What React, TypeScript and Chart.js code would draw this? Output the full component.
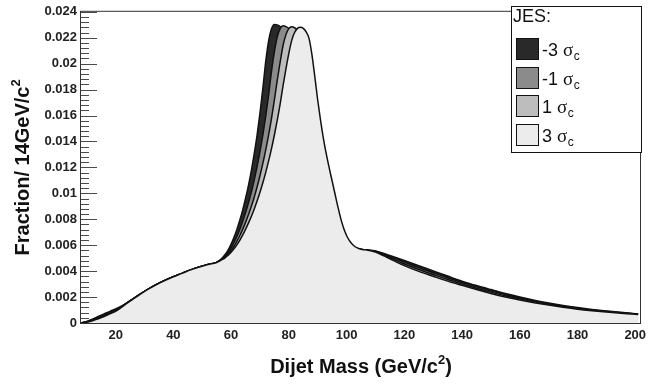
import React, { useEffect, useRef } from 'react';
import { Chart, registerables } from 'chart.js';

Chart.register(...registerables);

// Dijet mass grid (GeV/c^2)
const MASS = [
  8, 10, 12, 14, 16, 18, 20, 22, 25, 28, 31, 34, 37, 40, 43, 46, 49, 52,
  55, 56, 57, 58, 59, 60, 61, 62, 63, 64, 65, 66, 67, 68, 69, 70, 71, 72, 73, 74,
  75, 76, 77, 78, 79, 80, 81, 82, 83, 84, 85, 86, 87, 88, 89, 90, 91, 92, 93, 94,
  95, 96, 97, 98, 99, 100, 101, 102, 103, 104, 105, 106,
  107, 110, 115, 120, 125, 130, 135, 140, 145, 150, 155, 160, 165, 170, 175, 180, 185, 190, 195, 200, 201,
];

const JES_MINUS3 = [
  0, 0.00012, 0.0003, 0.0005, 0.0007, 0.0009, 0.00108, 0.0013, 0.00172, 0.00216, 0.00258, 0.00296, 0.00328, 0.00357, 0.00383, 0.0041, 0.00432, 0.00451,
  0.00467, 0.00483, 0.00503, 0.0053, 0.00564, 0.00608, 0.00661, 0.00722, 0.00792, 0.0087, 0.0096, 0.0106, 0.01174, 0.01304, 0.0145, 0.01619, 0.0181, 0.02017, 0.02175, 0.02269,
  0.02302, 0.02299, 0.02287, 0.02262, 0.02225, 0.02143, 0.02039, 0.01916, 0.01784, 0.01663, 0.0155, 0.01449, 0.0136, 0.0128, 0.012, 0.0113, 0.0105, 0.0098, 0.0091, 0.0084,
  0.0078, 0.0073, 0.0069, 0.0065, 0.0063, 0.0061, 0.00594, 0.00583, 0.00575, 0.0057, 0.00567, 0.00565,
  0.00563, 0.00556, 0.0052, 0.00482, 0.00442, 0.00402, 0.00362, 0.00323, 0.00289, 0.00258, 0.00228, 0.00201, 0.00176, 0.00154, 0.00135, 0.00119, 0.00105, 0.00093, 0.00082, 0.00072, 0.0007,
];

const JES_MINUS1 = [
  0, 0.0001, 0.00026, 0.00044, 0.00063, 0.00083, 0.00102, 0.00127, 0.00171, 0.00216, 0.00258, 0.00296, 0.00328, 0.00357, 0.00383, 0.0041, 0.00432, 0.00451,
  0.00467, 0.00481, 0.00498, 0.00518, 0.00545, 0.0058, 0.00621, 0.00668, 0.00722, 0.00783, 0.0085, 0.00925, 0.01008, 0.01102, 0.01206, 0.01321, 0.0145, 0.01596, 0.0176, 0.0194,
  0.02092, 0.02208, 0.0227, 0.02292, 0.02286, 0.02271, 0.0224, 0.02188, 0.02087, 0.01954, 0.01814, 0.01677, 0.01552, 0.0144, 0.0134, 0.01247, 0.01166, 0.01087, 0.01008, 0.00928,
  0.00854, 0.00786, 0.00728, 0.00684, 0.0065, 0.00623, 0.00603, 0.00588, 0.00578, 0.00572, 0.00567, 0.00565,
  0.00563, 0.00553, 0.00512, 0.00469, 0.00427, 0.00388, 0.00349, 0.00312, 0.00279, 0.00248, 0.00219, 0.00193, 0.0017, 0.00149, 0.0013, 0.00115, 0.00101, 0.0009, 0.0008, 0.0007, 0.00068,
];

const JES_PLUS1 = [
  0, 0.00008, 0.00022, 0.00038, 0.00056, 0.00076, 0.00096, 0.00124, 0.0017, 0.00215, 0.00257, 0.00295, 0.00328, 0.00357, 0.00383, 0.0041, 0.00432, 0.00451,
  0.00467, 0.00479, 0.00493, 0.00511, 0.00532, 0.0056, 0.00592, 0.0063, 0.00673, 0.00722, 0.00776, 0.00834, 0.00898, 0.0097, 0.01049, 0.01136, 0.01231, 0.01335, 0.0145, 0.01578,
  0.01721, 0.01873, 0.02013, 0.0214, 0.02224, 0.0227, 0.02284, 0.02277, 0.02257, 0.02216, 0.02128, 0.02, 0.01846, 0.01688, 0.01546, 0.01424, 0.01317, 0.01222, 0.01132, 0.01044,
  0.00955, 0.0087, 0.00793, 0.00727, 0.00679, 0.00642, 0.00615, 0.00596, 0.00582, 0.00573, 0.00568, 0.00565,
  0.00563, 0.00551, 0.00503, 0.00455, 0.00413, 0.00374, 0.00336, 0.00301, 0.00268, 0.00238, 0.0021, 0.00186, 0.00163, 0.00143, 0.00126, 0.0011, 0.00098, 0.00087, 0.00077, 0.00069, 0.00067,
];

const JES_PLUS3 = [
  0, 0.00006, 0.00018, 0.00033, 0.0005, 0.0007, 0.0009, 0.0012, 0.00169, 0.00214, 0.00257, 0.00295, 0.00328, 0.00357, 0.00383, 0.0041, 0.00432, 0.00451,
  0.00467, 0.00478, 0.0049, 0.00505, 0.00522, 0.00545, 0.00572, 0.00603, 0.00638, 0.00678, 0.00722, 0.0077, 0.00822, 0.00878, 0.0094, 0.01008, 0.01082, 0.01162, 0.0125, 0.01345,
  0.0145, 0.01565, 0.0169, 0.0183, 0.0196, 0.0208, 0.0218, 0.0224, 0.02272, 0.0228, 0.02272, 0.02245, 0.02195, 0.0207, 0.019, 0.0172, 0.0156, 0.0142, 0.013, 0.01195,
  0.01095, 0.00995, 0.00895, 0.00805, 0.0073, 0.00675, 0.00635, 0.00607, 0.00588, 0.00576, 0.00569, 0.00565,
  0.00563, 0.00548, 0.00495, 0.00442, 0.00398, 0.0036, 0.00323, 0.0029, 0.00258, 0.00228, 0.00201, 0.00178, 0.00157, 0.00138, 0.00121, 0.00106, 0.00094, 0.00084, 0.00075, 0.00067, 0.00065,
];

const SERIES_LABELS = ['-3', '-1', '1', '3'];
const SERIES_COLORS = ['#292929', '#8b8b8b', '#bdbdbd', '#ececec'];

const X_TICKS = [20, 40, 60, 80, 100, 120, 140, 160, 180, 200];
const Y_TICKS = [0, 0.002, 0.004, 0.006, 0.008, 0.01, 0.012, 0.014, 0.016, 0.018, 0.02, 0.022, 0.024];
const Y_TICK_LABELS = ['0', '0.002', '0.004', '0.006', '0.008', '0.01', '0.012', '0.014', '0.016', '0.018', '0.02', '0.022', '0.024'];

const FONT = '"Liberation Sans", Arial, Helvetica, sans-serif';
const SERIF = '"Liberation Serif", "Times New Roman", serif';

const rootDecor = {
  id: 'rootDecor',
  afterDatasetsDraw(chart: any) {
    const ctx = chart.ctx as CanvasRenderingContext2D;
    const a = chart.chartArea;
    const ys = chart.scales.y;
    ctx.save();
    // y ticks drawn inward (major + minor)
    ctx.strokeStyle = '#4a4a4a';
    ctx.lineWidth = 1;
    for (let k = 0; k <= 60; k++) {
      const v = k * 0.0004;
      const py = Math.round(ys.getPixelForValue(v)) + 0.5;
      const len = k % 5 === 0 ? 16 : 8;
      ctx.beginPath();
      ctx.moveTo(a.left, py);
      ctx.lineTo(a.left + len, py);
      ctx.stroke();
    }
    // frame
    ctx.strokeStyle = '#333';
    ctx.strokeRect(a.left - 0.5, a.top - 0.5, a.right - a.left, a.bottom - a.top + 1);

    // legend
    const lx = 511, ly = 6, lw = 130, lh = 146;
    ctx.fillStyle = '#fff';
    ctx.fillRect(lx, ly, lw, lh);
    ctx.strokeStyle = '#111';
    ctx.strokeRect(lx + 0.5, ly + 0.5, lw, lh);
    ctx.fillStyle = '#111';
    ctx.font = `18px ${FONT}`;
    ctx.textAlign = 'left';
    ctx.textBaseline = 'alphabetic';
    ctx.fillText('JES:', 513, 22);
    SERIES_LABELS.forEach((lab, i) => {
      const yc = 49 + i * 28.5;
      ctx.fillStyle = SERIES_COLORS[i];
      ctx.fillRect(516, Math.round(yc - 11), 23, 22);
      ctx.strokeStyle = '#111';
      ctx.strokeRect(516.5, Math.round(yc - 11) + 0.5, 22, 21);
      ctx.fillStyle = '#111';
      ctx.font = `18px ${FONT}`;
      const t = lab + ' ';
      ctx.fillText(t, 542, yc + 7);
      const w = ctx.measureText(t).width;
      ctx.font = `19px ${SERIF}`;
      ctx.fillText('\u03c3', 542 + w, yc + 7);
      const ws = ctx.measureText('\u03c3').width;
      ctx.font = `12px ${FONT}`;
      ctx.fillText('c', 542 + w + ws + 0.5, yc + 11);
    });

    // axis titles
    ctx.fillStyle = '#111';
    const bigFont = `bold 20px ${FONT}`;
    const supFont = `bold 13px ${FONT}`;
    // x title
    {
      const p1 = 'Dijet Mass (GeV/c';
      const p3 = ')';
      ctx.font = bigFont;
      const w1 = ctx.measureText(p1).width;
      const w3 = ctx.measureText(p3).width;
      ctx.font = supFont;
      const w2 = ctx.measureText('2').width;
      const total = w1 + w2 + w3;
      const cx = (a.left + a.right) / 2;
      const x0 = cx - total / 2;
      const by = 373;
      ctx.font = bigFont;
      ctx.fillText(p1, x0, by);
      ctx.font = supFont;
      ctx.fillText('2', x0 + w1, by - 9);
      ctx.font = bigFont;
      ctx.fillText(p3, x0 + w1 + w2, by);
    }
    // y title
    {
      const p1 = 'Fraction/ 14GeV/c';
      ctx.font = bigFont;
      const w1 = ctx.measureText(p1).width;
      ctx.font = supFont;
      const w2 = ctx.measureText('2').width;
      const total = w1 + w2;
      const cy = (a.top + a.bottom) / 2;
      ctx.translate(22, cy);
      ctx.rotate(-Math.PI / 2);
      ctx.font = bigFont;
      ctx.fillText(p1, -total / 2, 7);
      ctx.font = supFont;
      ctx.fillText('2', -total / 2 + w1, -2);
    }
    ctx.restore();
  },
};

export default function App() {
  const ref = useRef<HTMLCanvasElement | null>(null);
  useEffect(() => {
    if (!ref.current) return;
    const seriesList = [JES_MINUS3, JES_MINUS1, JES_PLUS1, JES_PLUS3];
    const datasets = seriesList.map((vals, i) => ({
      label: SERIES_LABELS[i],
      data: MASS.map((m, j) => ({ x: m, y: vals[j] })),
      borderColor: '#111',
      borderWidth: 1.5,
      backgroundColor: SERIES_COLORS[i],
      fill: 'origin',
      pointRadius: 0,
      cubicInterpolationMode: 'monotone' as const,
      order: 4 - i,
    }));
    const chart = new Chart(ref.current, {
      type: 'line',
      data: { datasets },
      options: {
        responsive: false,
        animation: false,
        layout: { padding: { left: 0, right: 12, top: 6, bottom: 0 } },
        plugins: { legend: { display: false }, tooltip: { enabled: false } },
        scales: {
          x: {
            type: 'linear',
            min: 8,
            max: 202,
            afterBuildTicks: (s: any) => { s.ticks = X_TICKS.map((v) => ({ value: v })); },
            afterFit: (s: any) => { s.height = 62; },
            grid: { display: false, drawTicks: false },
            border: { display: false },
            ticks: {
              padding: 5,
              color: '#222',
              maxRotation: 0,
              autoSkip: false,
              font: { family: FONT, size: 13, weight: 'bold' },
              callback: (v: any) => String(v),
            },
          },
          y: {
            type: 'linear',
            min: 0,
            max: 0.024,
            afterBuildTicks: (s: any) => { s.ticks = Y_TICKS.map((v) => ({ value: v })); },
            afterFit: (s: any) => { s.width = 81; },
            grid: { display: false, drawTicks: false },
            border: { display: false },
            ticks: {
              padding: 4,
              color: '#222',
              autoSkip: false,
              font: { family: FONT, size: 13, weight: 'bold' },
              callback: (_v: any, i: number) => Y_TICK_LABELS[i],
            },
          },
        },
      },
      plugins: [rootDecor],
    });
    return () => chart.destroy();
  }, []);
  return (
    <div style={{ position: 'fixed', left: 0, top: 0, width: 653, height: 385, background: '#fff' }}>
      <canvas ref={ref} width={653} height={385} style={{ width: 653, height: 385 }} />
    </div>
  );
}
